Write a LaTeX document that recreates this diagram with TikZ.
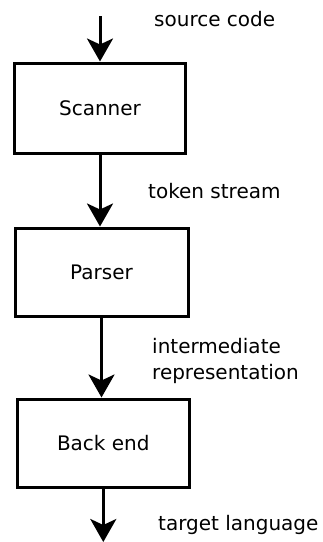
\documentclass[tikz,border=0pt]{standalone}
\usepackage{fontspec}
\setmainfont{DejaVu Sans}
\usetikzlibrary{arrows.meta}
\begin{document}
\begin{tikzpicture}[x=1pt,y=1pt,
  stagebox/.style={draw=black, line width=3pt, fill=white, font=\fontsize{20}{24}\selectfont, inner sep=0pt},
  flow/.style={line width=3pt, -{Stealth[length=23pt, width=26pt, inset=6pt]}},
  lbl/.style={anchor=base west, inner sep=0pt, font=\fontsize{20}{24}\selectfont, text=black}]
\useasboundingbox (0,0) rectangle (322,-542);
\node[stagebox, minimum width=171pt, minimum height=90pt] (scanner) at (100,-108) {Scanner};
\node[stagebox, minimum width=173pt, minimum height=88pt] (parser) at (101.5,-272) {Parser};
\node[stagebox, minimum width=172pt, minimum height=88pt] (backend) at (103.3,-443) {Back end};
\coordinate (in) at (100,-16);
\coordinate (out) at (103.3,-542);
\draw[flow] (in) -- (scanner.north);
\draw[flow] (scanner.south) -- (parser.north -| scanner.south);
\draw[flow] (parser.south) -- (backend.north -| parser.south);
\draw[flow] (backend.south) -- (out);
\node[lbl] (l1) at (154,-26) {source code};
\node[lbl] (l2) at (148,-198) {token stream};
\node[lbl] (l3a) at (152,-353) {intermediate};
\node[lbl] (l3b) at (152,-379) {representation};
\node[lbl] (l4) at (158,-530) {target language};
\end{tikzpicture}
\end{document}
